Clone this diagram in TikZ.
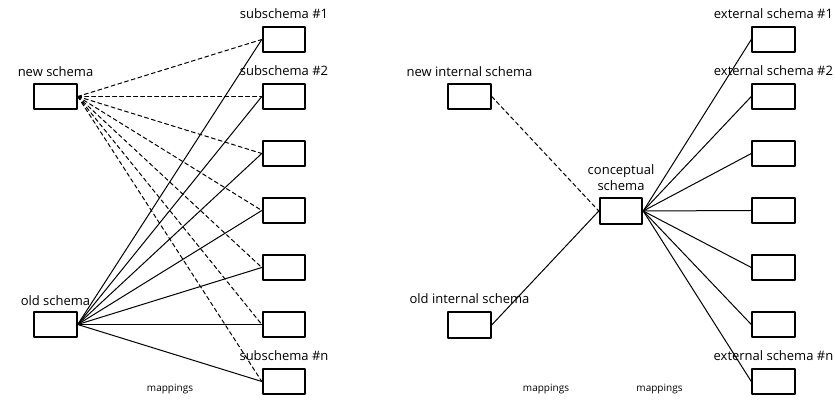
\documentclass[tikz,border=0pt]{standalone}
\usepackage{fontspec}
\setmainfont{Open Sans}
\usetikzlibrary{positioning}
\begin{document}
\begin{tikzpicture}[x=1pt,y=1pt,line join=round,line cap=round]
  \tikzset{schema/.style={draw,line width=1.9pt,minimum width=42.5pt,minimum height=25.5pt,inner sep=0pt},
    lbl/.style={font=\fontsize{13}{16}\selectfont,inner sep=1pt,align=center},
    small/.style={font=\fontsize{10}{12}\selectfont,inner sep=0pt,anchor=base},
    map/.style={line width=1pt},
    newmap/.style={map,dash pattern=on 4pt off 3pt}}
  \def\subx{284}
  \def\extx{773.5}
  \useasboundingbox (0,0) rectangle (835,401);
  % left: schema change
  \node[schema] (newS) at (55.5,304.5) {};
  \node[schema] (oldS) at (55.5,76.5) {};
  \node[lbl,above=5pt of newS] (newSl) {new schema};
  \node[lbl,above=4pt of oldS] (oldSl) {old schema};
  \foreach \i/\y in {1/361.5,2/304.5,3/247.5,4/190.5,5/133.5,6/76.5,7/19.5}
    \node[schema] (sub\i) at (\subx,\y) {};
  \node[lbl,above=6pt of sub1] (sub1l) {subschema \#1};
  \node[lbl,above=6pt of sub2] (sub2l) {subschema \#2};
  \node[lbl,above=6pt of sub7] (sub7l) {subschema \#n};
  \foreach \i in {1,...,7} {
    \draw[newmap] (newS.east) -- (sub\i.west);
    \draw[map] (oldS.east) -- (sub\i.west);
  }
  \node[small] (mapL) at (170,9) {mappings};
  % right: internal schema change
  \node[schema] (newI) at (469.5,304.5) {};
  \node[schema] (oldI) at (469.5,76) {};
  \node[schema] (concept) at (621,190) {};
  \node[lbl,above=5pt of newI] (newIl) {new internal schema};
  \node[lbl,above=6pt of oldI] (oldIl) {old internal schema};
  \node[lbl,above=5pt of concept] (conceptl) {conceptual\\schema};
  \foreach \i/\y in {1/361.5,2/304.5,3/247.5,4/190.5,5/133.5,6/76.5,7/19.5}
    \node[schema] (ext\i) at (\extx,\y) {};
  \node[lbl,above=6pt of ext1] (ext1l) {external schema \#1};
  \node[lbl,above=6pt of ext2] (ext2l) {external schema \#2};
  \node[lbl,above=6pt of ext7] (ext7l) {external schema \#n};
  \draw[newmap] (newI.east) -- (concept.west);
  \draw[map] (oldI.east) -- (concept.west);
  \foreach \i in {1,...,7}
    \draw[map] (concept.east) -- (ext\i.west);
  \node[small] (mapR1) at (546,9) {mappings};
  \node[small] (mapR2) at (659.5,9) {mappings};
\end{tikzpicture}
\end{document}
